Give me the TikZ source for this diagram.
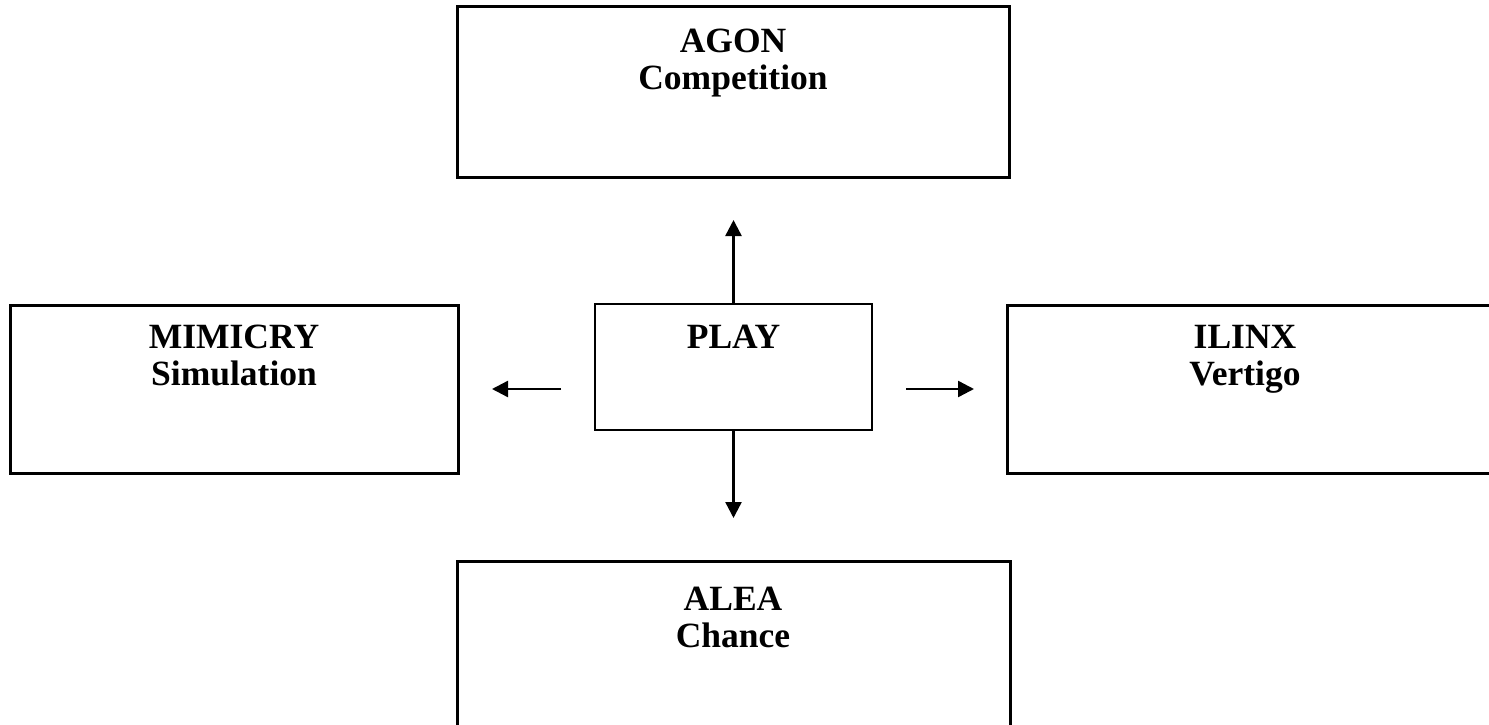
\documentclass[tikz,border=0pt]{standalone}
\usepackage{fontspec}
\setmainfont{Liberation Serif}
\usetikzlibrary{arrows.meta}
\tikzset{
  bigbox/.style={draw=black, line width=3pt, rectangle, inner sep=0pt},
  playbox/.style={draw=black, line width=2.5pt, rectangle, inner sep=0pt},
  lbl/.style={anchor=north, inner sep=0pt, align=center,
    font=\bfseries\fontsize{35.5}{37}\selectfont},
  arr/.style={line width=2.4pt, -{Triangle[length=16pt,width=16pt]}}
}
\begin{document}
\begin{tikzpicture}[x=1pt,y=-1pt]
\useasboundingbox (0,0) rectangle (1489,725);
\clip (0,0) rectangle (1489,725);
% boxes
\node[bigbox, minimum width=552pt, minimum height=170pt] (agon) at (733,92) {};
\node[bigbox, minimum width=448pt, minimum height=168pt] (mimicry) at (234,389) {};
\node[playbox, minimum width=277pt, minimum height=126pt] (play) at (733.5,367) {};
\node[bigbox, minimum width=500pt, minimum height=168pt] (ilinx) at (1257,389) {};
\node[bigbox, minimum width=553pt, minimum height=170pt] (alea) at (733.5,646) {};
% labels
\node[lbl] (agonT) at (733,29) {AGON\\Competition};
\node[lbl] (mimicryT) at (234,325) {MIMICRY\\Simulation};
\node[lbl] (playT) at (733.5,325) {PLAY};
\node[lbl] (ilinxT) at (1245,325) {ILINX\\Vertigo};
\node[lbl] (aleaT) at (733,587) {ALEA\\Chance};
% arrow ends
\coordinate (upEnd) at (733.5,220);
\coordinate (downEnd) at (733.5,518);
\coordinate (lStart) at (561,389);
\coordinate (lEnd) at (492,389);
\coordinate (rStart) at (906,389);
\coordinate (rEnd) at (974,389);
\draw[arr] (play.north) -- (upEnd);
\draw[arr] (play.south) -- (downEnd);
\draw[arr] (lStart) -- (lEnd);
\draw[arr] (rStart) -- (rEnd);
\end{tikzpicture}
\end{document}
